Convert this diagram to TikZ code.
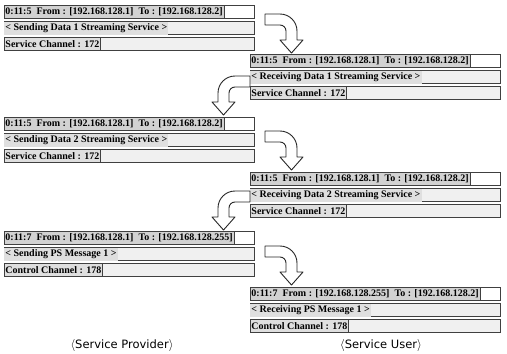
\documentclass[tikz,border=0pt]{standalone}
\usepackage{fontspec}
\setmainfont{Liberation Serif}
\newfontfamily\labelfont{DejaVu Sans}
\usetikzlibrary{positioning}

\tikzset{
  rowbox/.style={draw=black!75, line width=0.5pt, fill=gray!12, anchor=west,
    minimum width=250pt, minimum height=13pt, inner sep=0pt},
  hdrbox/.style={rowbox, fill=white},
  msgtext/.style={draw=black!75, line width=0.5pt, fill=gray!35, anchor=west,
    minimum height=13pt, inner sep=1.2pt, font=\fontsize{10}{11}\selectfont\bfseries},
  turnarrow/.style={draw=black!85, line width=0.9pt, fill=white, line join=round},
  sidelabel/.style={font=\labelfont\fontsize{11.5}{13}\selectfont},
  turnright/.pic={
    \draw[turnarrow] (0,0) -- (15,0) arc[start angle=-90, end angle=0, radius=17]
      -- (32,26) -- (38,26) -- (26.5,39) -- (15,26) -- (21,26) -- (21,17)
      arc[start angle=0, end angle=-90, radius=6] -- (0,11) -- cycle;
  }
}

% one message: header, content line, channel line
\newcommand{\msgblock}[6]{%
  \node[hdrbox] (#1h) at (#2,#3) {};
  \node[msgtext] (#1ht) at (#1h.west) {#4};
  \node[rowbox] (#1d) at (#2,#3+16) {};
  \node[msgtext, fill=gray!25, draw=none] (#1dt) at (#1d.west) {#5};
  \node[rowbox] (#1c) at (#2,#3+32) {};
  \node[msgtext, fill=gray!25] (#1ct) at (#1c.west) {#6};
}

\begin{document}
\begin{tikzpicture}[x=1pt, y=-1pt]
  \useasboundingbox (0,0) rectangle (507,354);

  % provider side
  \msgblock{pa}{4}{12}{0:11:5\enspace From : [192.168.128.1]\enspace To : [192.168.128.2]}
    {< Sending Data 1 Streaming Service >}{Service Channel : 172}
  \msgblock{pb}{4}{124}{0:11:5\enspace From : [192.168.128.1]\enspace To : [192.168.128.2]}
    {< Sending Data 2 Streaming Service >}{Service Channel : 172}
  \msgblock{pc}{4}{238}{0:11:7\enspace From : [192.168.128.1]\enspace To : [192.168.128.255]}
    {< Sending PS Message 1 >}{Control Channel : 178}

  % user side
  \msgblock{ua}{250}{61}{0:11:5\enspace From : [192.168.128.1]\enspace To : [192.168.128.2]}
    {< Receiving Data 1 Streaming Service >}{Service Channel : 172}
  \msgblock{ub}{250}{179}{0:11:5\enspace From : [192.168.128.1]\enspace To : [192.168.128.2]}
    {< Receiving Data 2 Streaming Service >}{Service Channel : 172}
  \msgblock{uc}{250}{294}{0:11:7\enspace From : [192.168.128.255]\enspace To : [192.168.128.2]}
    {< Receiving PS Message 1 >}{Control Channel : 178}

  % turning arrows
  \pic at (265,14) {turnright};
  \pic[xscale=-1] at (250,76) {turnright};
  \pic at (265,131) {turnright};
  \pic[xscale=-1] at (250,191) {turnright};
  \pic at (265,246) {turnright};

  \node[sidelabel] (provider) at (122,345) {$\langle$Service Provider$\rangle$};
  \node[sidelabel] (user) at (381,345) {$\langle$Service User$\rangle$};
\end{tikzpicture}
\end{document}
